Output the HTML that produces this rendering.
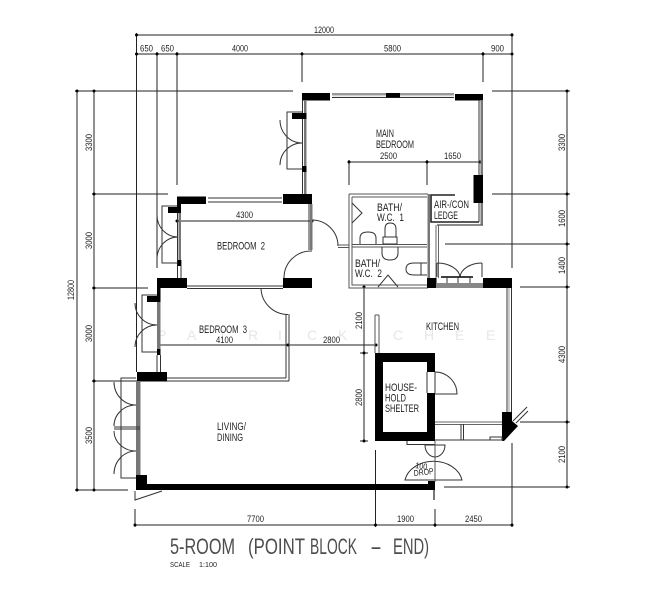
<!DOCTYPE html>
<html><head><meta charset="utf-8"><style>
html,body{margin:0;padding:0;background:#fff}
svg{display:block;filter:blur(.3px)}
text{font-family:"Liberation Sans",sans-serif;fill:#1e1e1e}
.d line{stroke:#222;stroke-width:1;fill:none}
.t{stroke:#333;stroke-width:1;fill:none}
.k{fill:#000}
.gr{fill:#777}
.ti{fill:#4d4d4d}
</style></head><body>
<svg width="664" height="600" viewBox="0 0 664 600" xmlns="http://www.w3.org/2000/svg">
<rect width="664" height="600" fill="#fff"/>
<!-- watermark -->
<text x="157 187 218 248 278 307 338 393 424 455 486" y="340" font-size="14" style="fill:#e6e6e6">PATRICKCHEE</text>

<!-- dimension lines -->
<g class="d">
<line x1="136.5" y1="35" x2="512" y2="35"/>
<line x1="136.5" y1="54" x2="512" y2="54"/>
<line x1="136.5" y1="33" x2="136.5" y2="372"/>
<line x1="157" y1="52" x2="157" y2="268"/>
<line x1="177" y1="52" x2="177" y2="185"/>
<line x1="302" y1="52" x2="302" y2="82"/>
<line x1="483" y1="52" x2="483" y2="82"/>
<line x1="512" y1="33" x2="512" y2="268"/>
<line x1="77" y1="91" x2="77" y2="490"/>
<line x1="94" y1="91" x2="94" y2="490"/>
<line x1="75" y1="91" x2="293" y2="91"/>
<line x1="92" y1="194" x2="168" y2="194"/>
<line x1="92" y1="288" x2="148" y2="288"/>
<line x1="92" y1="381" x2="137" y2="381"/>
<line x1="75" y1="490" x2="128" y2="490"/>
<line x1="567" y1="91" x2="567" y2="487"/>
<line x1="492" y1="91" x2="570" y2="91"/>
<line x1="492" y1="194" x2="570" y2="194"/>
<line x1="445" y1="244" x2="570" y2="244"/>
<line x1="520" y1="287" x2="570" y2="287"/>
<line x1="520" y1="422" x2="570" y2="422"/>
<line x1="444" y1="487" x2="570" y2="487"/>
<line x1="349" y1="162" x2="480" y2="162"/>
<line x1="349" y1="160" x2="349" y2="185"/>
<line x1="427" y1="160" x2="427" y2="185"/>
<line x1="177" y1="221" x2="312" y2="221"/>
<line x1="159" y1="345" x2="376" y2="345"/>
<line x1="364" y1="287" x2="364" y2="441"/>
<line x1="360" y1="353" x2="368" y2="353"/>
<line x1="360" y1="441" x2="368" y2="441"/>
<line x1="135" y1="525" x2="512" y2="525"/>
<line x1="135" y1="509" x2="135" y2="527"/>
<line x1="375.5" y1="450" x2="375.5" y2="527"/>
<line x1="435" y1="509" x2="435" y2="527"/>
<line x1="512" y1="443" x2="512" y2="527"/>
</g>
<!-- ticks -->
<g class="k">
<circle cx="136.5" cy="35" r="1.5"/><circle cx="512" cy="35" r="1.5"/>
<circle cx="136.5" cy="54" r="1.5"/><circle cx="157" cy="54" r="1.5"/><circle cx="177" cy="54" r="1.5"/><circle cx="302" cy="54" r="1.5"/><circle cx="483" cy="54" r="1.5"/><circle cx="512" cy="54" r="1.5"/>
<circle cx="77" cy="91" r="1.5"/><circle cx="94" cy="91" r="1.5"/><circle cx="94" cy="194" r="1.5"/><circle cx="94" cy="288" r="1.5"/><circle cx="94" cy="381" r="1.5"/><circle cx="77" cy="490" r="1.5"/><circle cx="94" cy="490" r="1.5"/>
<circle cx="567" cy="91" r="1.5"/><circle cx="567" cy="194" r="1.5"/><circle cx="567" cy="244" r="1.5"/><circle cx="567" cy="287" r="1.5"/><circle cx="567" cy="422" r="1.5"/><circle cx="567" cy="487" r="1.5"/>
<circle cx="349" cy="162" r="1.5"/><circle cx="427" cy="162" r="1.5"/><circle cx="480" cy="162" r="1.5"/>
<circle cx="177" cy="221" r="1.5"/><circle cx="312" cy="221" r="1.5"/>
<circle cx="159" cy="345" r="1.5"/><circle cx="288" cy="345" r="1.5"/><circle cx="376" cy="345" r="1.5"/>
<circle cx="364" cy="287" r="1.5"/><circle cx="364" cy="353" r="1.5"/><circle cx="364" cy="441" r="1.5"/>
<circle cx="135" cy="525" r="1.5"/><circle cx="375.5" cy="525" r="1.5"/><circle cx="435" cy="525" r="1.5"/><circle cx="512" cy="525" r="1.5"/>
</g>

<!-- main bedroom walls -->
<rect class="k" x="302" y="93" width="28" height="7.5"/>
<path class="t" d="M332 94H454M332 97.5H454"/>
<line x1="332" y1="95.8" x2="454" y2="95.8" stroke="#bbb" stroke-width="1"/>
<rect class="k" x="386" y="93" width="14" height="4.5"/>
<rect class="k" x="455" y="94" width="28" height="6.5"/>
<rect class="gr" x="480.5" y="100" width="2.5" height="125"/>
<line x1="479" y1="100" x2="479" y2="222" stroke="#333"/>
<rect class="k" x="473.5" y="175" width="9.5" height="28"/>
<path d="M483 225H437" stroke="#666" stroke-width="1.5" fill="none"/>
<path d="M479 222H431V195H455" stroke="#222" stroke-width="1.6" fill="none"/>
<rect class="gr" x="304" y="100" width="2.5" height="94"/>
<line x1="302.5" y1="100" x2="302.5" y2="194" stroke="#333"/>
<rect class="k" x="292" y="113" width="14.5" height="6"/>
<rect class="k" x="302" y="166" width="4.5" height="6"/>
<!-- main casement -->
<path class="t" d="M302 112H287V169H302"/>
<path class="t" d="M280 120A22 23 0 0 0 302 143M280 165A22 22 0 0 1 302 143"/>

<!-- bedroom 2 -->
<rect class="k" x="177" y="196.5" width="29" height="7.5"/>
<path class="t" d="M208 198H282M208 202H282"/>
<rect class="k" x="283" y="194" width="29" height="10"/>
<rect class="k" x="177" y="197" width="4" height="16"/>
<rect class="k" x="168" y="207" width="13" height="6"/>
<rect class="gr" x="178.5" y="213" width="2.5" height="47"/>
<path class="t" d="M177.5 213V278M181 260V278"/>
<rect class="k" x="177.5" y="260" width="3.5" height="6"/>
<path class="t" d="M177 206H162V263H177"/>
<path class="t" d="M157 215A21 22 0 0 0 178 237M157 259A21 22 0 0 1 178 237"/>
<rect class="gr" x="310" y="204" width="2.5" height="46"/>
<line x1="309" y1="204" x2="309" y2="250" stroke="#333"/>
<path class="t" d="M284 278A27 27 0 0 1 312 251M312 220A26 26 0 0 1 338 246"/>
<path d="M338 245H349M338 247.5H349" stroke="#555" fill="none"/>
<rect class="k" x="157" y="278" width="30" height="10"/>
<rect class="k" x="157" y="278" width="3.5" height="18"/>
<rect class="k" x="147" y="296" width="13.5" height="6"/>
<path class="t" d="M187 286H283M187 288.5H283"/>
<rect class="k" x="283" y="278" width="29" height="10"/>
<path class="t" d="M261 288A27 27 0 0 0 288 314.500"/>

<!-- bedroom 3 -->
<rect class="gr" x="157" y="302" width="3.500" height="47"/>
<rect class="k" x="157" y="349" width="3.500" height="6"/>
<path class="t" d="M157 355V372M160.500 355V372"/>
<path class="t" d="M157 295H142V352H157"/>
<path class="t" d="M135 303A22 22 0 0 0 157 325M135 347A22 22 0 0 1 157 325"/>
<path class="t" d="M286 314V378M289 314V381M167 378H286M167 381H289"/>
<rect class="k" x="137" y="372" width="30" height="9.500"/>

<!-- living -->
<rect class="gr" x="136" y="381" width="4.500" height="94"/>
<rect class="k" x="136" y="475" width="11" height="15"/>
<rect class="k" x="136" y="484" width="299" height="6"/>
<rect class="k" x="428" y="481" width="7" height="9"/>
<rect x="433" y="490" width="2" height="10" fill="#777"/>
<path class="t" d="M135 491V500L162 491"/>
<path class="t" d="M136 378H121V478H136M114 427H140M114 429H140"/>
<path class="t" d="M114 382A22 23 0 0 0 136 405M114 426A22 21 0 0 1 136 405M114 431A22 20 0 0 0 136 451M114 474A22 23 0 0 1 136 451"/>

<!-- baths -->
<path d="M349 194H428M349 194V288H428M352 197H427M352 197V285H427" stroke="#555" fill="none"/>
<path d="M352 244.500H427M352 247H427" stroke="#555" fill="none"/>
<path class="t" d="M352 203L362 213L352 223"/>
<path class="t" d="M360 244V238Q360 232 368 232Q376 232 376 238V244"/>
<path class="t" d="M385 237V229Q385 223 390 223Q396 223 396 229V237M383 237H397V244H383Z"/>
<path class="t" d="M382 247V253Q382 260 390 260Q398 260 398 253V247"/>
<path class="t" d="M427 263H414Q406 263 406 269Q406 275 414 275H427M421 263V275"/>
<path class="t" d="M378 287L388 275L398 287"/>
<rect class="gr" x="427.500" y="194" width="2.500" height="84"/>
<path d="M436 225V278M438.500 225V278" stroke="#666" fill="none"/>
<rect class="k" x="427" y="278" width="9.500" height="10"/>
<rect class="k" x="483" y="278" width="29" height="10"/>
<rect x="436" y="283" width="47" height="5" fill="#888"/>
<path class="t" d="M437 263V277M482 263V277"/>
<path class="t" d="M437 263A23 15 0 0 1 460 277M482 263A22 15 0 0 0 460 277"/>
<path d="M441 277H473" stroke="#000" stroke-width="1.500" fill="none"/>
<path class="t" d="M447 277V283M458 277V283M470 277V283"/>

<!-- kitchen right wall -->
<path class="t" d="M507 288V412M511.500 288V412"/>
<line x1="509" y1="288" x2="509" y2="412" stroke="#999"/>
<polygon class="k" points="502,412 512,412 512,421 518,426 504,441 502,441"/>
<path class="t" d="M513 421L527 407M516 423L528 411"/>
<path d="M435 422H502M435 424.500H502" stroke="#666" fill="none"/>
<path class="t" d="M435 440H503"/>
<path class="t" d="M461 424V440M463.500 424V440"/>
<path class="t" d="M490 437H502V440H490Z"/>

<!-- shelter -->
<path class="k" fill-rule="evenodd" d="M375 353H435V441H375ZM383 362V432H427V362Z"/>
<rect x="427" y="372" width="8" height="21" fill="#fff"/>
<path class="t" d="M427 372V393M435 372V393"/>
<path class="t" d="M435 372A22 22 0 0 1 457 394H435"/>
<path d="M375 315V353M379 315V353M375 315H379" stroke="#555" fill="none"/>
<path class="t" d="M407 441V444.500H435"/>
<path class="t" d="M425 445H445A10 12 0 0 1 425 445Z"/>
<path class="t" d="M405 480A29 23 0 0 1 462 480Z"/>
<line x1="435" y1="441" x2="435" y2="482" stroke="#555"/>

<!-- dimension labels -->
<g font-size="9">
<text x="314" y="33" textLength="20" lengthAdjust="spacingAndGlyphs">12000</text>
<text x="140" y="51.500" textLength="13" lengthAdjust="spacingAndGlyphs">650</text>
<text x="161" y="51.500" textLength="13" lengthAdjust="spacingAndGlyphs">650</text>
<text x="232" y="51.500" textLength="16" lengthAdjust="spacingAndGlyphs">4000</text>
<text x="384" y="51.500" textLength="17" lengthAdjust="spacingAndGlyphs">5800</text>
<text x="491" y="51.500" textLength="13" lengthAdjust="spacingAndGlyphs">900</text>
<text x="380" y="159" textLength="17" lengthAdjust="spacingAndGlyphs">2500</text>
<text x="444" y="159" textLength="17" lengthAdjust="spacingAndGlyphs">1650</text>
<text x="236" y="218" textLength="17" lengthAdjust="spacingAndGlyphs">4300</text>
<text x="216" y="343" textLength="17" lengthAdjust="spacingAndGlyphs">4100</text>
<text x="323" y="343" textLength="17" lengthAdjust="spacingAndGlyphs">2800</text>
<text x="247" y="522" textLength="17" lengthAdjust="spacingAndGlyphs">7700</text>
<text x="397" y="522" textLength="17" lengthAdjust="spacingAndGlyphs">1900</text>
<text x="465" y="522" textLength="17" lengthAdjust="spacingAndGlyphs">2450</text>
<text transform="translate(92,151) rotate(-90)" textLength="17" lengthAdjust="spacingAndGlyphs">3300</text>
<text transform="translate(92,249) rotate(-90)" textLength="17" lengthAdjust="spacingAndGlyphs">3000</text>
<text transform="translate(92,342) rotate(-90)" textLength="17" lengthAdjust="spacingAndGlyphs">3000</text>
<text transform="translate(92,444) rotate(-90)" textLength="17" lengthAdjust="spacingAndGlyphs">3500</text>
<text transform="translate(74,300) rotate(-90)" textLength="20" lengthAdjust="spacingAndGlyphs">12800</text>
<text transform="translate(565,151) rotate(-90)" textLength="17" lengthAdjust="spacingAndGlyphs">3300</text>
<text transform="translate(565,227) rotate(-90)" textLength="17" lengthAdjust="spacingAndGlyphs">1600</text>
<text transform="translate(565,274) rotate(-90)" textLength="17" lengthAdjust="spacingAndGlyphs">1400</text>
<text transform="translate(565,363) rotate(-90)" textLength="17" lengthAdjust="spacingAndGlyphs">4300</text>
<text transform="translate(565,463) rotate(-90)" textLength="17" lengthAdjust="spacingAndGlyphs">2100</text>
<text transform="translate(362,329) rotate(-90)" textLength="17" lengthAdjust="spacingAndGlyphs">2100</text>
<text transform="translate(362,406) rotate(-90)" textLength="17" lengthAdjust="spacingAndGlyphs">2800</text>
</g>

<!-- room labels -->
<g font-size="11">
<text x="376" y="137" textLength="18" lengthAdjust="spacingAndGlyphs">MAIN</text>
<text x="376" y="148" textLength="38" lengthAdjust="spacingAndGlyphs">BEDROOM</text>
<text x="377" y="211" textLength="25" lengthAdjust="spacingAndGlyphs">BATH/</text>
<text x="377" y="221" textLength="27" lengthAdjust="spacingAndGlyphs" style="white-space:pre">W.C.  1</text>
<text x="355" y="267" textLength="25" lengthAdjust="spacingAndGlyphs">BATH/</text>
<text x="355" y="277" textLength="27" lengthAdjust="spacingAndGlyphs" style="white-space:pre">W.C.  2</text>
<text x="434" y="208" textLength="35" lengthAdjust="spacingAndGlyphs">AIR-/CON</text>
<text x="434" y="219" textLength="24" lengthAdjust="spacingAndGlyphs">LEDGE</text>
<text x="217" y="249.500" textLength="48" lengthAdjust="spacingAndGlyphs" style="white-space:pre">BEDROOM  2</text>
<text x="199" y="333" textLength="48" lengthAdjust="spacingAndGlyphs" style="white-space:pre">BEDROOM  3</text>
<text x="426" y="330" textLength="33" lengthAdjust="spacingAndGlyphs">KITCHEN</text>
<text x="217" y="430" textLength="29" lengthAdjust="spacingAndGlyphs">LIVING/</text>
<text x="217" y="441" textLength="26" lengthAdjust="spacingAndGlyphs">DINING</text>
<text x="385" y="391" textLength="32" lengthAdjust="spacingAndGlyphs">HOUSE-</text>
<text x="385" y="401.500" textLength="21" lengthAdjust="spacingAndGlyphs">HOLD</text>
<text x="385" y="412" textLength="34" lengthAdjust="spacingAndGlyphs">SHELTER</text>
<text transform="translate(415,468) rotate(8)" font-size="8.500" textLength="12" lengthAdjust="spacingAndGlyphs">100</text>
<text transform="translate(414,476) rotate(-6)" font-size="8.500" textLength="20" lengthAdjust="spacingAndGlyphs">DROP</text>
</g>

<!-- title -->
<g font-size="22">
<text class="ti" x="170" y="554" textLength="65" lengthAdjust="spacingAndGlyphs">5-ROOM</text>
<text class="ti" x="248" y="554" textLength="57" lengthAdjust="spacingAndGlyphs">(POINT</text>
<text class="ti" x="310" y="554" textLength="47" lengthAdjust="spacingAndGlyphs">BLOCK</text>
<text class="ti" x="370" y="554" textLength="12" lengthAdjust="spacingAndGlyphs">-</text>
<text class="ti" x="393" y="554" textLength="36" lengthAdjust="spacingAndGlyphs">END)</text>
</g>
<text x="170" y="567" font-size="7.500" textLength="20" lengthAdjust="spacingAndGlyphs">SCALE</text>
<text x="199" y="567" font-size="7.500" textLength="18" lengthAdjust="spacingAndGlyphs">1:100</text>
</svg>
</body></html>
